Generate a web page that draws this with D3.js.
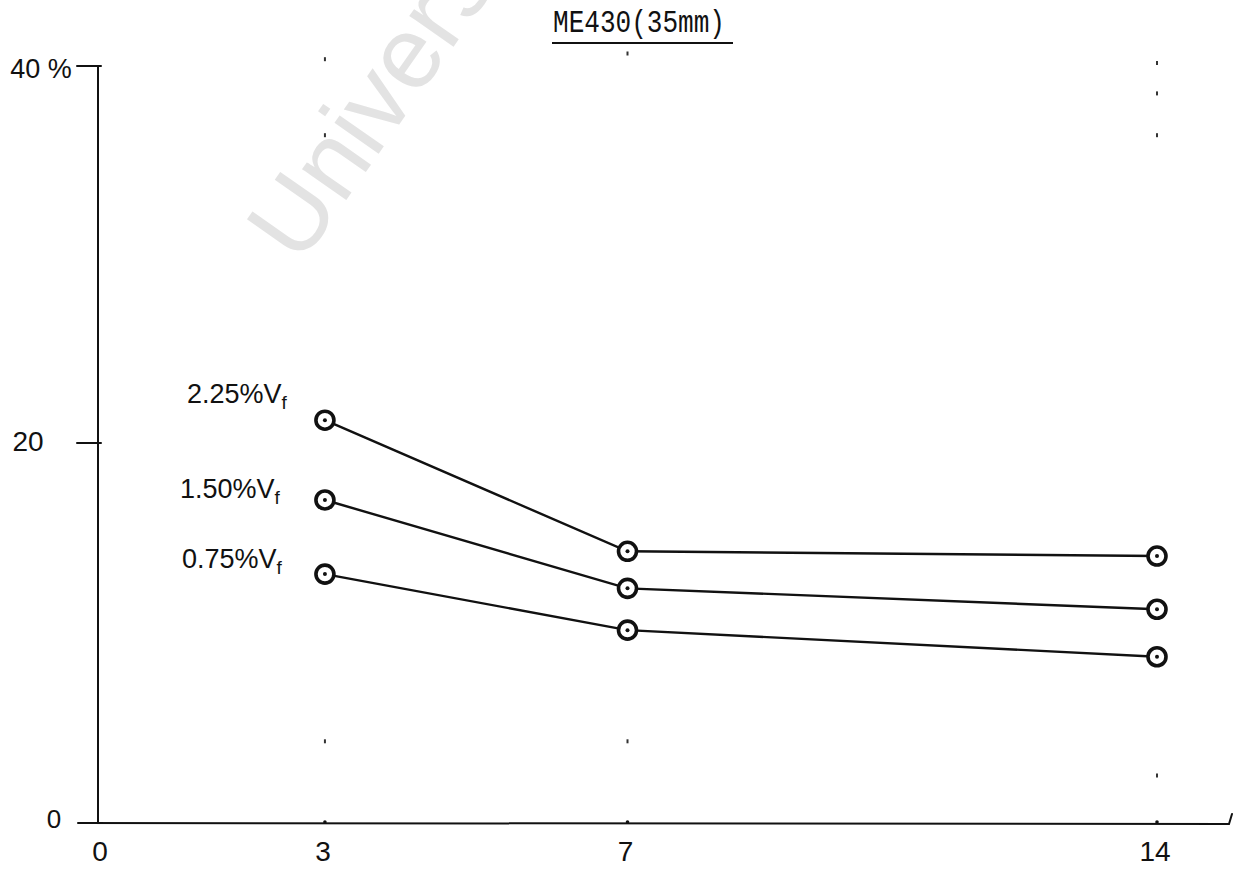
<!DOCTYPE html>
<html>
<head>
<meta charset="utf-8">
<script src="https://cdn.jsdelivr.net/npm/d3@7"></script>
<style>
  html, body { margin: 0; padding: 0; background: #fff; }
  svg { display: block; }
</style>
</head>
<body>
<svg id="chart" width="1237" height="869"></svg>
<script>
// Curing age (days) on x, percentage on y
const days = [3, 7, 14];
const seriesNames = ["2.25%V", "1.50%V", "0.75%V"];
const values225 = [21.2, 14.3, 14.05];
const values150 = [17.0, 12.35, 11.25];
const values075 = [13.1, 10.15, 8.75];
const xTickLabels = ["0", "3", "7", "14"];
const xTickValues = [0, 3, 7, 14];
const yTickValues = [0, 20, 40];
const yTickLabels = ["0", "20", "40 %"];
const chartTitle = "ME430(35mm)";
// faint pencil guide dots left on the sheet
const guideX = [3, 3, 3, 7, 7, 14, 14, 14, 14];
const guideY = [40.2, 36.2, 4.3, 40.5, 4.3, 40, 38.4, 36.2, 2.5];

const series = [
  { name: seriesNames[0], values: values225 },
  { name: seriesNames[1], values: values150 },
  { name: seriesNames[2], values: values075 }
];

const svg = d3.select("#chart");
svg.append("rect").attr("width", 1237).attr("height", 869).attr("fill", "#fff");

// watermark
svg.append("text")
  .attr("transform", "translate(300,266) rotate(-55)")
  .attr("font-family", "Liberation Sans, Arial, sans-serif")
  .attr("font-size", 102)
  .attr("fill", "#e3e3e3")
  .text("University of Cape Town");

const x = d3.scaleLinear().domain([0, 14]).range([98, 1157]);
const y = d3.scaleLinear().domain([0, 40]).range([823, 63]);

const ink = "#111";
const hand = "Liberation Sans, DejaVu Sans, sans-serif";

// axes
const gAxes = svg.append("g").attr("stroke", ink).attr("fill", "none").attr("stroke-linecap", "round");
gAxes.append("line")
  .attr("x1", x(0)).attr("x2", x(0))
  .attr("y1", y(40) + 3).attr("y2", y(0))
  .attr("stroke-width", 2);
gAxes.append("path")
  .attr("d", d3.line()([[x(0) - 20, y(0)], [x(14) + 72, y(0) + 1], [x(14) + 75, y(0) - 9]]))
  .attr("stroke-width", 2);

// y ticks
yTickValues.filter(v => v > 0).forEach(v => {
  const yy = y(v) + (v === 40 ? 3 : 0);
  gAxes.append("line")
    .attr("x1", x(0) - 21).attr("x2", x(0) + 3)
    .attr("y1", yy).attr("y2", yy)
    .attr("stroke-width", 2);
});

// y tick labels
const yLabelPos = { 0: [54, 828, 26], 20: [28, 451, 28], 40: [41, 78, 27] };
yTickValues.forEach((v, i) => {
  const p = yLabelPos[v];
  svg.append("text")
    .attr("x", p[0]).attr("y", p[1])
    .attr("text-anchor", "middle")
    .attr("font-family", hand)
    .attr("font-size", p[2])
    .attr("fill", ink)
    .text(yTickLabels[i]);
});

// x tick labels
xTickValues.forEach((v, i) => {
  svg.append("text")
    .attr("x", v === 0 ? x(0) + 2 : x(v) - 2)
    .attr("y", 861)
    .attr("text-anchor", "middle")
    .attr("font-family", hand)
    .attr("font-size", 28)
    .attr("fill", ink)
    .text(xTickLabels[i]);
  if (v > 0) {
    svg.append("circle").attr("cx", x(v)).attr("cy", y(0) - 1).attr("r", 1.8).attr("fill", ink);
  }
});

// guide dots
guideX.forEach((gx, i) => {
  svg.append("rect")
    .attr("x", x(gx) - 1).attr("y", y(guideY[i]) - 2)
    .attr("width", 2).attr("height", 4)
    .attr("fill", "#333");
});

// title
svg.append("text")
  .attr("x", 553).attr("y", 32)
  .attr("font-family", "Liberation Mono, DejaVu Sans Mono, monospace")
  .attr("font-size", 31)
  .attr("textLength", 172)
  .attr("lengthAdjust", "spacingAndGlyphs")
  .attr("fill", ink)
  .text(chartTitle);
svg.append("line")
  .attr("x1", 552).attr("x2", 733).attr("y1", 43).attr("y2", 43)
  .attr("stroke", ink).attr("stroke-width", 2);

// lines and markers
const line = d3.line().x((d, i) => x(days[i])).y(d => y(d));
series.forEach(s => {
  svg.append("path")
    .attr("d", line(s.values))
    .attr("fill", "none")
    .attr("stroke", ink)
    .attr("stroke-width", 2.4);
});
series.forEach(s => {
  s.values.forEach((v, i) => {
    svg.append("circle")
      .attr("cx", x(days[i])).attr("cy", y(v)).attr("r", 9)
      .attr("fill", "#fff").attr("stroke", ink).attr("stroke-width", 3.6);
    svg.append("circle")
      .attr("cx", x(days[i])).attr("cy", y(v)).attr("r", 2)
      .attr("fill", ink);
  });
});

// series labels with subscript f
const labelPos = [[187, 403], [180, 498], [182, 568]];
series.forEach((s, i) => {
  const t = svg.append("text")
    .attr("x", labelPos[i][0]).attr("y", labelPos[i][1])
    .attr("font-family", hand)
    .attr("font-size", 27)
    .attr("fill", ink);
  t.append("tspan").text(s.name);
  t.append("tspan").attr("dy", 6).attr("font-size", 19).text("f");
});
</script>
</body>
</html>
